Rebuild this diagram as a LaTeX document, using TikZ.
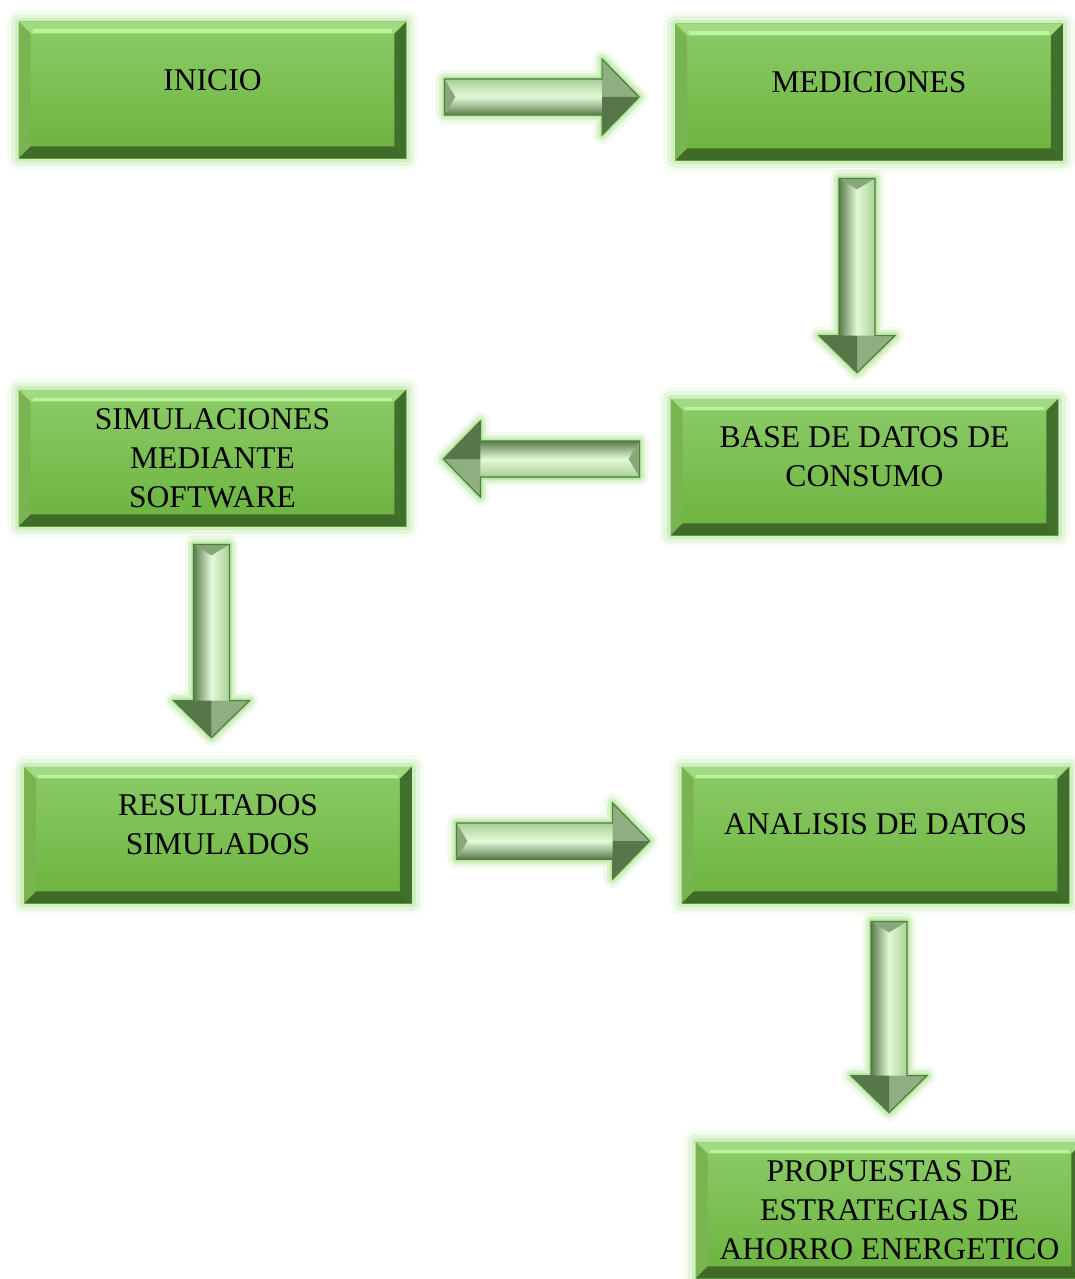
\documentclass[tikz,border=0pt]{standalone}
\usepackage{fontspec}
\setmainfont{Liberation Serif}
\usetikzlibrary{calc,backgrounds}

\definecolor{caraalta}{HTML}{8CCB67}
\definecolor{carabaja}{HTML}{6BB33D}
\definecolor{biselsup}{HTML}{A2DA83}
\definecolor{biselluz}{HTML}{B9F59B}
\definecolor{biselizq}{HTML}{79B451}
\definecolor{biselder}{HTML}{416F2C}
\definecolor{biselinf}{HTML}{3F6A28}
\definecolor{resplandor}{HTML}{9FDE80}
\definecolor{flclaro}{HTML}{A8CF97}
\definecolor{flbrillo}{HTML}{E2FAD7}
\definecolor{flosc}{HTML}{5A7C4E}
\definecolor{flpuntaclara}{HTML}{8FAF82}
\definecolor{flpuntaosc}{HTML}{57774B}
\definecolor{flcola}{HTML}{88A87B}
\definecolor{flborde}{HTML}{4F7F3A}

\tikzset{
	etapa/.style={rectangle, draw=none, inner sep=0pt, minimum width=193.5pt, minimum height=68pt, top color=caraalta, bottom color=carabaja},
	rotulo/.style={align=center, inner sep=0pt, text=black, font=\fontsize{15.8}{19.5}\selectfont},
	halo/.style={draw=resplandor, line join=round},
	borde/.style={draw=flborde, line width=0.6pt, line join=miter},
	tronco este/.style={top color=flclaro, bottom color=flosc, middle color=flbrillo},
	tronco oeste/.style={top color=flosc, bottom color=flclaro, middle color=flbrillo},
	tronco sur/.style={left color=flosc, right color=flclaro, middle color=flbrillo}
}

% flecha de bloque: cola, punta, sombreado del tronco
\newcommand{\flecha}[3]{%
	\coordinate (fT) at (#1);
	\coordinate (fP) at (#2);
	\coordinate (fB) at ($(fP)!18.5pt!(fT)$);
	\coordinate (fT1) at ($(fT)!9pt!90:(fP)$);
	\coordinate (fT2) at ($(fT)!9pt!-90:(fP)$);
	\coordinate (fB1) at ($(fB)!9pt!90:(fP)$);
	\coordinate (fB2) at ($(fB)!9pt!-90:(fP)$);
	\coordinate (fH1) at ($(fB)!19pt!90:(fP)$);
	\coordinate (fH2) at ($(fB)!19pt!-90:(fP)$);
	\coordinate (fC) at ($(fT)!5.5pt!(fP)$);
	\foreach \ancho/\opac in {9pt/0.15, 5.5pt/0.3, 2.5pt/0.5}
		\draw[halo, line width=\ancho, opacity=\opac] (fT1) -- (fB1) -- (fH1) -- (fP) -- (fH2) -- (fB2) -- (fT2) -- cycle;
	\shade[#3] (fT1) -- (fB1) -- (fB2) -- (fT2) -- cycle;
	\fill[flcola] (fT1) -- (fC) -- (fT2) -- cycle;
	\fill[flpuntaclara] (fH1) -- (fP) -- (fB) -- cycle;
	\fill[flpuntaosc] (fB) -- (fP) -- (fH2) -- cycle;
	\draw[borde] (fT1) -- (fB1) -- (fH1) -- (fP) -- (fH2) -- (fB2) -- (fT2) -- cycle;
}

\begin{document}
\begin{tikzpicture}[x=0.5pt, y=-0.5pt]
	\clip (0, 0) rectangle (1075, 1279);

	% Etapas
	\node[etapa] (inicio) at (212.5, 90) {};
	\node[etapa] (medic) at (869, 92) {};
	\node[etapa] (simul) at (212.5, 458) {};
	\node[etapa] (base) at (864.5, 467) {};
	\node[etapa] (resul) at (218, 835) {};
	\node[etapa] (anal) at (875.5, 835) {};
	\node[etapa] (prop) at (889.5, 1210) {};

	% Biseles
	\foreach \nombre in {inicio, medic, simul, base, resul, anal, prop} {
		\fill[biselsup] (\nombre.north west) -- (\nombre.north east) -- ($(\nombre.north east)+(-12, 12)$) -- ($(\nombre.north west)+(12, 12)$) -- cycle;
		\draw[biselluz, line width=1.6pt] ($(\nombre.north west)+(14, 9.5)$) -- ($(\nombre.north east)+(-14, 9.5)$);
		\fill[biselizq] (\nombre.north west) -- ($(\nombre.north west)+(12, 12)$) -- ($(\nombre.south west)+(12, -12)$) -- (\nombre.south west) -- cycle;
		\fill[biselder] (\nombre.north east) -- ($(\nombre.north east)+(-12, 12)$) -- ($(\nombre.south east)+(-12, -12)$) -- (\nombre.south east) -- cycle;
		\fill[biselinf] (\nombre.south west) -- ($(\nombre.south west)+(12, -12)$) -- ($(\nombre.south east)+(-12, -12)$) -- (\nombre.south east) -- cycle;
	}

	% Resplandor de las etapas
	\begin{scope}[on background layer]
		\foreach \nombre in {inicio, medic, simul, base, resul, anal, prop}
			\foreach \ancho/\opac in {12pt/0.1, 8pt/0.18, 4pt/0.3}
				\draw[halo, line width=\ancho, opacity=\opac] (\nombre.north west) rectangle (\nombre.south east);
	\end{scope}

	% Textos
	\node[rotulo] (inicio-t) at ([yshift=5pt]inicio.center) {INICIO};
	\node[rotulo] (medic-t) at ([yshift=5pt]medic.center) {MEDICIONES};
	\node[rotulo] (simul-t) at (simul.center) {SIMULACIONES\\MEDIANTE\\SOFTWARE};
	\node[rotulo] (base-t) at ([yshift=5pt]base.center) {BASE DE DATOS DE\\CONSUMO};
	\node[rotulo] (resul-t) at ([yshift=5pt]resul.center) {RESULTADOS\\SIMULADOS};
	\node[rotulo] (anal-t) at ([yshift=5.5pt]anal.center) {ANALISIS DE DATOS};
	\node[rotulo] (prop-t) at (prop.center) {PROPUESTAS DE\\ESTRATEGIAS DE\\AHORRO ENERGETICO};

	% Flechas
	\flecha{$(inicio.east)+(38, 7)$}{$(medic.west)+(-36, 5)$}{tronco este}
	\flecha{$(medic.south)+(-12, 18)$}{$(base.north)+(-7.5, -26)$}{tronco sur}
	\flecha{$(base.west)+(-31, -8)$}{$(simul.east)+(37, 1)$}{tronco oeste}
	\flecha{$(simul.south)+(-1, 18)$}{$(resul.north)+(-6.5, -29)$}{tronco sur}
	\flecha{$(resul.east)+(44.5, 6)$}{$(anal.west)+(-32, 6)$}{tronco este}
	\flecha{$(anal.south)+(13.5, 18)$}{$(prop.north)+(-0.5, -29)$}{tronco sur}
\end{tikzpicture}
\end{document}
